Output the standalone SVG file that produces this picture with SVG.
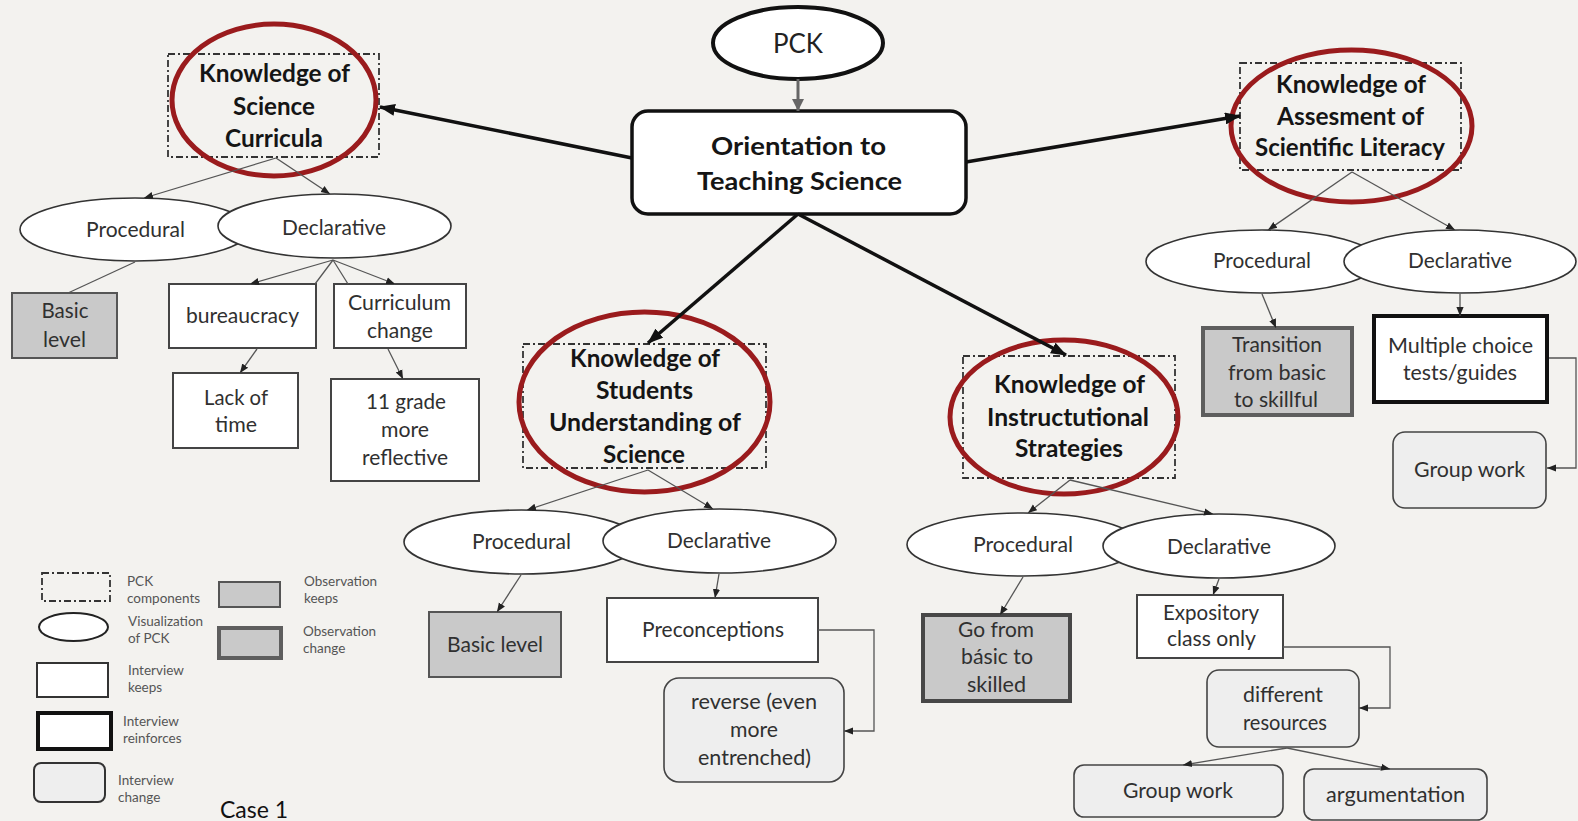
<svg xmlns="http://www.w3.org/2000/svg" width="1578" height="821" viewBox="0 0 1578 821">
<style>
.b{font-family:Lato,"Liberation Sans",sans-serif;font-weight:700;font-size:24px;fill:#151515;text-anchor:middle}
.r{font-family:Lato,"Liberation Sans",sans-serif;font-size:21px;fill:#303030;text-anchor:middle}
.l{font-family:Lato,"Liberation Sans",sans-serif;font-size:13.5px;fill:#555}
.pck{fill:none;stroke:#333;stroke-width:1.8;stroke-dasharray:7 3 2 3}
.red{fill:none;stroke:#9a1b1d;stroke-width:5}
.ell{fill:#fff;stroke:#333;stroke-width:1.6}
.ik{fill:#fff;stroke:#444;stroke-width:2}
.ir{fill:#fff;stroke:#111;stroke-width:4}
.ic{fill:#eeeeee;stroke:#444;stroke-width:1.6}
.ok{fill:#c9c9c9;stroke:#555;stroke-width:2}
.oc{fill:#c9c9c9;stroke:#5e5e5e;stroke-width:4}
.thin{fill:none;stroke:#555;stroke-width:1.3}
.thinA{fill:none;stroke:#555;stroke-width:1.3;marker-end:url(#mt)}
.thick{fill:none;stroke:#111;stroke-width:3.5;marker-end:url(#mk)}
</style>
<defs>
<marker id="mt" viewBox="0 0 10 10" markerWidth="9" markerHeight="9" refX="10" refY="5" orient="auto" markerUnits="userSpaceOnUse"><path d="M0,1 L10,5 L0,9 z" fill="#222"/></marker>
<marker id="mk" viewBox="0 0 16 12" markerWidth="16" markerHeight="12" refX="15" refY="6" orient="auto" markerUnits="userSpaceOnUse"><path d="M0,0 L16,6 L0,12 z" fill="#111"/></marker>
<marker id="mg" viewBox="0 0 12 12" markerWidth="12" markerHeight="12" refX="12" refY="6" orient="auto" markerUnits="userSpaceOnUse"><path d="M0,0 L12,6 L0,12 z" fill="#666"/></marker>
</defs>
<rect x="0" y="0" width="1578" height="821" fill="#f3f2ef"/>

<g id="pck">
<ellipse cx="798" cy="43" rx="85" ry="36" fill="#fff" stroke="#111" stroke-width="4"/>
<text class="r" x="798" y="53" style="font-size:26px;fill:#222" textLength="50" lengthAdjust="spacingAndGlyphs">PCK</text>
</g>
<g id="orientation">
<rect x="632" y="111" width="334" height="103" rx="16" fill="#fff" stroke="#111" stroke-width="3.5"/>
<text class="b" x="798.5" y="155" style="font-size:25px" textLength="175" lengthAdjust="spacingAndGlyphs">Orientation to</text>
<text class="b" x="799.5" y="190" style="font-size:25px" textLength="205" lengthAdjust="spacingAndGlyphs">Teaching Science</text>
</g>

<!-- Knowledge of Science Curricula -->
<g id="ksc">
<rect class="pck" x="168" y="54" width="211" height="103"/>
<ellipse class="red" cx="274" cy="100" rx="102" ry="76"/>
<text class="b" x="274.5" y="82" textLength="151" lengthAdjust="spacingAndGlyphs">Knowledge of</text>
<text class="b" x="274" y="115" textLength="82" lengthAdjust="spacingAndGlyphs">Science</text>
<text class="b" x="274" y="147" textLength="98" lengthAdjust="spacingAndGlyphs">Curricula</text>
</g>
<g id="ksc-proc">
<ellipse class="ell" cx="135" cy="229.5" rx="115" ry="31.5"/>
<text class="r" x="135.5" y="237" textLength="99" lengthAdjust="spacingAndGlyphs">Procedural</text>
</g>
<g id="ksc-decl">
<ellipse class="ell" cx="334.5" cy="226" rx="116.5" ry="32"/>
<text class="r" x="334" y="235" textLength="104" lengthAdjust="spacingAndGlyphs">Declarative</text>
</g>
<g id="ksc-basic">
<rect class="ok" x="12" y="293" width="105" height="65"/>
<text class="r" x="65" y="318" textLength="47" lengthAdjust="spacingAndGlyphs">Basic</text>
<text class="r" x="64.5" y="347" textLength="43" lengthAdjust="spacingAndGlyphs">level</text>
</g>
<g id="bureaucracy">
<rect class="ik" x="169" y="284" width="147" height="64"/>
<text class="r" x="242.5" y="323" textLength="113" lengthAdjust="spacingAndGlyphs">bureaucracy</text>
</g>
<g id="curriculum-change">
<rect class="ik" x="334" y="284" width="132" height="64"/>
<text class="r" x="399.5" y="310" textLength="103" lengthAdjust="spacingAndGlyphs">Curriculum</text>
<text class="r" x="400" y="338" textLength="66" lengthAdjust="spacingAndGlyphs">change</text>
</g>
<g id="lack-of-time">
<rect class="ik" x="173" y="373" width="125" height="75"/>
<text class="r" x="236" y="405" textLength="64" lengthAdjust="spacingAndGlyphs">Lack of</text>
<text class="r" x="236" y="432" textLength="42" lengthAdjust="spacingAndGlyphs">time</text>
</g>
<g id="grade11">
<rect class="ik" x="331" y="379" width="148" height="102"/>
<text class="r" x="406" y="409" textLength="80" lengthAdjust="spacingAndGlyphs">11 grade</text>
<text class="r" x="405" y="437" textLength="48" lengthAdjust="spacingAndGlyphs">more</text>
<text class="r" x="405" y="465" textLength="86" lengthAdjust="spacingAndGlyphs">reflective</text>
</g>

<!-- Knowledge of Assesment of Scientific Literacy -->
<g id="kasl">
<rect class="pck" x="1240" y="63" width="221" height="107"/>
<ellipse class="red" cx="1351.5" cy="126" rx="120.5" ry="76"/>
<text class="b" x="1351" y="93" textLength="150" lengthAdjust="spacingAndGlyphs">Knowledge of</text>
<text class="b" x="1350.5" y="125" textLength="147" lengthAdjust="spacingAndGlyphs">Assesment of</text>
<text class="b" x="1350" y="156" textLength="190" lengthAdjust="spacingAndGlyphs">Scientific Literacy</text>
</g>
<g id="kasl-proc">
<ellipse class="ell" cx="1262" cy="261.5" rx="116" ry="31.5"/>
<text class="r" x="1262" y="268" textLength="98" lengthAdjust="spacingAndGlyphs">Procedural</text>
</g>
<g id="kasl-decl">
<ellipse class="ell" cx="1460" cy="261.5" rx="116" ry="31.5"/>
<text class="r" x="1460" y="268" textLength="104" lengthAdjust="spacingAndGlyphs">Declarative</text>
</g>
<g id="transition">
<rect class="oc" x="1203" y="328" width="149" height="87"/>
<text class="r" x="1277" y="352" textLength="90" lengthAdjust="spacingAndGlyphs">Transition</text>
<text class="r" x="1277" y="380" textLength="98" lengthAdjust="spacingAndGlyphs">from basic</text>
<text class="r" x="1276" y="407" textLength="84" lengthAdjust="spacingAndGlyphs">to skillful</text>
</g>
<g id="multiple-choice">
<rect class="ir" x="1374" y="316" width="173" height="86"/>
<text class="r" x="1460.5" y="353" textLength="145" lengthAdjust="spacingAndGlyphs">Multiple choice</text>
<text class="r" x="1460" y="380" textLength="114" lengthAdjust="spacingAndGlyphs">tests/guides</text>
</g>
<g id="kasl-group-work">
<rect class="ic" x="1393" y="432" width="153" height="76" rx="12"/>
<text class="r" x="1469.5" y="477" textLength="111" lengthAdjust="spacingAndGlyphs">Group work</text>
</g>

<!-- Knowledge of Students Understanding of Science -->
<g id="ksus">
<rect class="pck" x="523" y="344" width="243" height="124"/>
<ellipse class="red" cx="644.5" cy="402" rx="125.5" ry="90"/>
<text class="b" x="645" y="367" textLength="150" lengthAdjust="spacingAndGlyphs">Knowledge of</text>
<text class="b" x="644.5" y="399" textLength="97" lengthAdjust="spacingAndGlyphs">Students</text>
<text class="b" x="645" y="431" textLength="192" lengthAdjust="spacingAndGlyphs">Understanding of</text>
<text class="b" x="644" y="463" textLength="82" lengthAdjust="spacingAndGlyphs">Science</text>
</g>
<g id="ksus-proc">
<ellipse class="ell" cx="521.5" cy="542" rx="117.5" ry="32"/>
<text class="r" x="521.5" y="549" textLength="99" lengthAdjust="spacingAndGlyphs">Procedural</text>
</g>
<g id="ksus-decl">
<ellipse class="ell" cx="719.5" cy="541" rx="116.5" ry="32"/>
<text class="r" x="719" y="548" textLength="104" lengthAdjust="spacingAndGlyphs">Declarative</text>
</g>
<g id="ksus-basic">
<rect class="ok" x="429" y="612" width="132" height="65"/>
<text class="r" x="495" y="652" textLength="96" lengthAdjust="spacingAndGlyphs">Basic level</text>
</g>
<g id="preconceptions">
<rect class="ik" x="607" y="598" width="211" height="64"/>
<text class="r" x="713" y="637" textLength="142" lengthAdjust="spacingAndGlyphs">Preconceptions</text>
</g>
<g id="reverse">
<rect class="ic" x="664" y="678" width="180" height="104" rx="15"/>
<text class="r" x="754" y="709" textLength="126" lengthAdjust="spacingAndGlyphs">reverse (even</text>
<text class="r" x="754" y="737" textLength="48" lengthAdjust="spacingAndGlyphs">more</text>
<text class="r" x="754.5" y="765" textLength="113" lengthAdjust="spacingAndGlyphs">entrenched)</text>
</g>

<!-- Knowledge of Instructutional Strategies -->
<g id="kis">
<rect class="pck" x="963" y="356" width="212" height="122"/>
<ellipse class="red" cx="1064" cy="417" rx="114" ry="77"/>
<text class="b" x="1069.5" y="393" textLength="151" lengthAdjust="spacingAndGlyphs">Knowledge of</text>
<text class="b" x="1068" y="426" textLength="162" lengthAdjust="spacingAndGlyphs">Instructutional</text>
<text class="b" x="1069" y="457" textLength="108" lengthAdjust="spacingAndGlyphs">Strategies</text>
</g>
<g id="kis-proc">
<ellipse class="ell" cx="1023" cy="544.5" rx="116" ry="31.5"/>
<text class="r" x="1023" y="552" textLength="100" lengthAdjust="spacingAndGlyphs">Procedural</text>
</g>
<g id="kis-decl">
<ellipse class="ell" cx="1219" cy="546" rx="116" ry="32"/>
<text class="r" x="1219" y="554" textLength="104" lengthAdjust="spacingAndGlyphs">Declarative</text>
</g>
<g id="go-from">
<rect class="oc" x="923" y="615" width="147" height="86" style="stroke:#474747"/>
<text class="r" x="996" y="637" textLength="76" lengthAdjust="spacingAndGlyphs">Go from</text>
<text class="r" x="997" y="664" textLength="72" lengthAdjust="spacingAndGlyphs">básic to</text>
<text class="r" x="996.5" y="692" textLength="59" lengthAdjust="spacingAndGlyphs">skilled</text>
</g>
<g id="expository">
<rect class="ik" x="1137" y="595" width="146" height="63"/>
<text class="r" x="1211" y="620" textLength="96" lengthAdjust="spacingAndGlyphs">Expository</text>
<text class="r" x="1211.5" y="646" textLength="89" lengthAdjust="spacingAndGlyphs">class only</text>
</g>
<g id="different-resources">
<rect class="ic" x="1207" y="670" width="152" height="77" rx="12"/>
<text class="r" x="1283" y="702" textLength="80" lengthAdjust="spacingAndGlyphs">different</text>
<text class="r" x="1285" y="730" textLength="84" lengthAdjust="spacingAndGlyphs">resources</text>
</g>
<g id="kis-group-work">
<rect class="ic" x="1074" y="765" width="209" height="52" rx="10"/>
<text class="r" x="1178" y="798" textLength="110" lengthAdjust="spacingAndGlyphs">Group work</text>
</g>
<g id="argumentation">
<rect class="ic" x="1304" y="769" width="183" height="51" rx="10"/>
<text class="r" x="1395.5" y="802" textLength="139" lengthAdjust="spacingAndGlyphs">argumentation</text>
</g>

<!-- Legend -->
<g id="legend">
<rect class="pck" x="42" y="573" width="68" height="28"/>
<text class="l" x="127" y="586">PCK</text>
<text class="l" x="127" y="603">components</text>
<ellipse cx="73.5" cy="627" rx="34.5" ry="14" fill="#fff" stroke="#222" stroke-width="2"/>
<text class="l" x="128" y="626">Visualization</text>
<text class="l" x="128" y="643">of PCK</text>
<rect class="ik" x="37" y="663" width="71" height="34" style="stroke:#333"/>
<text class="l" x="128" y="675">Interview</text>
<text class="l" x="128" y="692">keeps</text>
<rect class="ir" x="38" y="713" width="73" height="36"/>
<text class="l" x="123" y="726">Interview</text>
<text class="l" x="123" y="743">reinforces</text>
<rect class="ic" x="34" y="763" width="71" height="39" rx="7" style="stroke:#333;stroke-width:2"/>
<text class="l" x="118" y="785">Interview</text>
<text class="l" x="118" y="802">change</text>
<rect class="ok" x="219" y="582" width="61" height="25"/>
<text class="l" x="304" y="586">Observation</text>
<text class="l" x="304" y="603">keeps</text>
<rect class="oc" x="219" y="628" width="62" height="30"/>
<text class="l" x="303" y="636">Observation</text>
<text class="l" x="303" y="653">change</text>
<text x="220" y="818" style="font-family:Lato,'Liberation Sans',sans-serif;font-size:23px;fill:#111">Case 1</text>
</g>

<g id="connectors">
<line x1="798" y1="79" x2="798" y2="111" stroke="#666" stroke-width="3" marker-end="url(#mg)"/>
<line class="thick" x1="632" y1="158" x2="380" y2="107"/>
<line class="thick" x1="966" y1="162" x2="1240" y2="116"/>
<line class="thick" x1="798" y1="214" x2="648" y2="343"/>
<line class="thick" x1="798" y1="214" x2="1066" y2="355"/>

<line class="thinA" x1="276" y1="158" x2="144" y2="198"/>
<line class="thinA" x1="276" y1="158" x2="330" y2="194"/>
<line class="thin" x1="135" y1="262" x2="68" y2="293"/>
<line class="thinA" x1="333" y1="260" x2="250" y2="284"/>
<line class="thin" x1="333" y1="260" x2="315" y2="284"/>
<line class="thin" x1="333" y1="260" x2="348" y2="284"/>
<line class="thinA" x1="333" y1="260" x2="395" y2="284"/>
<line class="thinA" x1="257" y1="349" x2="240" y2="373"/>
<line class="thinA" x1="388" y1="349" x2="403" y2="379"/>

<line class="thinA" x1="1352" y1="172" x2="1268" y2="230"/>
<line class="thinA" x1="1352" y1="172" x2="1455" y2="230"/>
<line class="thinA" x1="1262" y1="294" x2="1276" y2="328"/>
<line class="thinA" x1="1460" y1="294" x2="1460" y2="316"/>
<path class="thinA" d="M1549,358 H1576 V468 H1547"/>

<line class="thinA" x1="648" y1="470" x2="527" y2="510"/>
<line class="thinA" x1="648" y1="470" x2="713" y2="509"/>
<line class="thinA" x1="521" y1="575" x2="497" y2="612"/>
<line class="thinA" x1="719" y1="574" x2="715" y2="598"/>
<path class="thinA" d="M818,630 H874 V731 H844"/>

<line class="thinA" x1="1070" y1="480" x2="1028" y2="513"/>
<line class="thinA" x1="1070" y1="480" x2="1213" y2="514"/>
<line class="thinA" x1="1023" y1="577" x2="1000" y2="615"/>
<line class="thinA" x1="1219" y1="579" x2="1213" y2="595"/>
<path class="thinA" d="M1283,647 H1390 V708 H1359"/>
<line class="thinA" x1="1287" y1="748" x2="1183" y2="765"/>
<line class="thinA" x1="1287" y1="748" x2="1390" y2="769"/>
</g>
</svg>
